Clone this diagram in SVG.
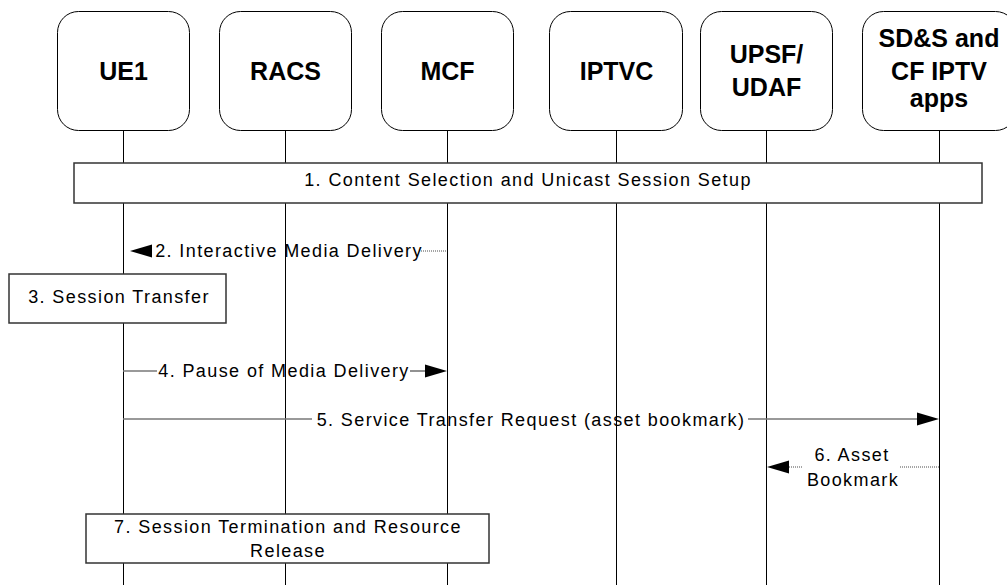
<svg xmlns="http://www.w3.org/2000/svg" width="1007" height="585" viewBox="0 0 1007 585">
<style>
.hdr{fill:#fff;stroke:#000;stroke-width:1}
.ht{font-family:"Liberation Sans",Arial,sans-serif;font-size:25px;font-weight:bold;fill:#000;text-anchor:middle}
.life{stroke:#000;stroke-width:1}
.box{fill:#fff;stroke:#333;stroke-width:1.5}
.t{font-family:"Liberation Sans",Arial,sans-serif;font-size:18px;letter-spacing:1.4px;fill:#000;text-anchor:middle}
.msg{stroke:#777;stroke-width:1.6;fill:none}
.dot{stroke:#888;stroke-width:1.6;stroke-dasharray:1 1;fill:none}
.ah{fill:#000}
</style>
<rect width="1007" height="585" fill="#fff"/>
<g id="lifelines">
<line class="life" x1="123.5" y1="130" x2="123.5" y2="585"/>
<line class="life" x1="285.5" y1="130" x2="285.5" y2="585"/>
<line class="life" x1="447.5" y1="130" x2="447.5" y2="585"/>
<line class="life" x1="616.5" y1="130" x2="616.5" y2="585"/>
<line class="life" x1="766.5" y1="130" x2="766.5" y2="585"/>
<line class="life" x1="939.5" y1="130" x2="939.5" y2="585"/>
</g>
<g id="UE1"><rect class="hdr" x="57.5" y="11.5" width="132" height="119" rx="21"/><text class="ht" x="123.5" y="80">UE1</text></g>
<g id="RACS"><rect class="hdr" x="219.5" y="11.5" width="132" height="119" rx="21"/><text class="ht" x="285.5" y="80">RACS</text></g>
<g id="MCF"><rect class="hdr" x="381.5" y="11.5" width="132" height="119" rx="21"/><text class="ht" x="447.5" y="80">MCF</text></g>
<g id="IPTVC"><rect class="hdr" x="549.5" y="11.5" width="133" height="119" rx="21"/><text class="ht" x="616.5" y="80">IPTVC</text></g>
<g id="UPSF"><rect class="hdr" x="700.5" y="11.5" width="132" height="119" rx="21"/><text class="ht" x="766.5" y="63">UPSF/</text><text class="ht" x="766.5" y="96">UDAF</text></g>
<g id="SDS"><rect class="hdr" x="862.5" y="11.5" width="154" height="119" rx="21"/><text class="ht" x="939" y="47">SD&amp;S and</text><text class="ht" x="939" y="80">CF IPTV</text><text class="ht" x="939" y="107">apps</text></g>
<g id="step1"><rect class="box" x="74" y="163" width="908" height="40"/><text class="t" x="528" y="186">1. Content Selection and Unicast Session Setup</text></g>
<g id="step3"><rect class="box" x="9" y="274" width="217" height="49"/><text class="t" x="119" y="303">3. Session Transfer</text></g>
<g id="step7"><rect class="box" x="86" y="514" width="403" height="49"/><text class="t" x="288" y="533">7. Session Termination and Resource</text><text class="t" x="288" y="557">Release</text></g>
<g id="connectors">
<line class="dot" x1="421" y1="251" x2="447" y2="251"/>
<polygon class="ah" points="130,251 152,244.5 152,257.5"/>
<text class="t" x="289" y="257">2. Interactive Media Delivery</text>
<line class="msg" x1="123" y1="371" x2="157" y2="371"/>
<line class="msg" x1="410" y1="371" x2="426" y2="371"/>
<polygon class="ah" points="447,371 425,364.5 425,377.5"/>
<text class="t" x="284" y="377">4. Pause of Media Delivery</text>
<line class="msg" x1="123" y1="419" x2="312" y2="419"/>
<line class="msg" x1="748" y1="419" x2="919" y2="419"/>
<polygon class="ah" points="939,419 917,412.5 917,425.5"/>
<text class="t" x="531" y="426">5. Service Transfer Request (asset bookmark)</text>
<line class="dot" x1="787" y1="467" x2="803" y2="467"/>
<line class="dot" x1="900" y1="467" x2="939" y2="467"/>
<polygon class="ah" points="767,467 789,460.5 789,473.5"/>
<text class="t" x="852" y="461">6. Asset</text>
<text class="t" x="853" y="486">Bookmark</text>
</g>
</svg>
